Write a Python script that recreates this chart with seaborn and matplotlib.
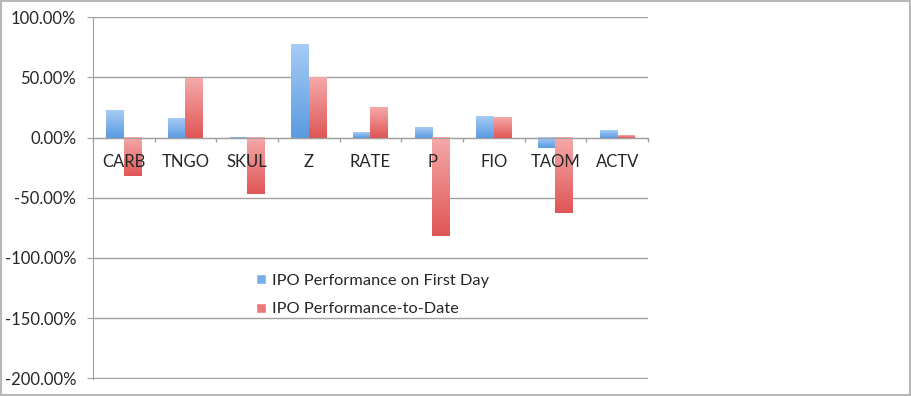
import numpy as np
import pandas as pd
import matplotlib
matplotlib.use("Agg")
import matplotlib.pyplot as plt
import seaborn as sns
from matplotlib.patches import Patch, Rectangle
from matplotlib.colors import LinearSegmentedColormap

# Данные (в процентах)
tickers = ["CARB", "TNGO", "SKUL", "Z", "RATE", "P", "FIO", "TAOM", "ACTV"]
first_day = [23.0, 16.5, -0.5, 78.0, 4.5, 8.5, 18.0, -9.0, 6.0]
to_date = [-32.0, 49.5, -47.0, 50.0, 25.0, -82.0, 17.0, -63.0, 1.8]
series_names = ["IPO Performance on First Day", "IPO Performance-to-Date"]

df = pd.DataFrame({
    "ticker": tickers * 2,
    "value": first_day + to_date,
    "series": [series_names[0]] * len(tickers) + [series_names[1]] * len(tickers),
})

sns.set_style("white")
plt.rcParams["font.family"] = ["Lato", "DejaVu Sans"]

grey = "#a0a0a0"
blue_mid, red_mid = "#78aeea", "#ea7878"
blue_cmap = LinearSegmentedColormap.from_list("b", ["#5b9be0", "#a6cbf5"])
red_cmap = LinearSegmentedColormap.from_list("r", ["#e05656", "#f5a9a9"])

fig = plt.figure(figsize=(9.12, 3.96), dpi=100)
ax = fig.add_axes([93 / 912, 1 - 379 / 396, 555 / 912, 362.5 / 396])

sns.barplot(data=df, x="ticker", y="value", hue="series", order=tickers,
            palette=[blue_mid, red_mid], width=0.57, saturation=1,
            legend=False, ax=ax)

# Градиентная заливка столбцов
grad = np.linspace(0, 1, 64).reshape(-1, 1)
for cont, cmap in zip(ax.containers, [blue_cmap, red_cmap]):
    for bar in cont:
        x0, w = bar.get_x(), bar.get_width()
        y0, h = bar.get_y(), bar.get_height()
        lo, hi = min(y0, y0 + h), max(y0, y0 + h)
        if hi - lo <= 0:
            continue
        ax.imshow(grad, extent=[x0, x0 + w, lo, hi], origin="lower",
                  cmap=cmap, aspect="auto", zorder=2)
        bar.set_visible(False)

yticks = np.arange(-200, 101, 50)
ax.set_xlim(-0.5, len(tickers) - 0.5)
ax.set_ylim(-200.6, 100.6)
ax.set_yticks(yticks)
ax.set_yticklabels([f"{v:.2f}%" for v in yticks])
ax.grid(False)
ax.set_axisbelow(False)
# линии сетки под столбцами, подписи осей поверх
for v in yticks:
    ax.axhline(v, color=grey, linewidth=1, zorder=0.5)

ax.spines["left"].set_color(grey)
ax.spines["bottom"].set_position(("data", 0))
ax.spines["bottom"].set_color(grey)

ax.set_xticks(np.arange(len(tickers)))
ax.set_xticklabels(tickers)
ax.tick_params(axis="x", which="both", length=0, pad=12, labelsize=12,
               top=False)
ax.tick_params(axis="y", which="both", length=4, color=grey, pad=8, labelsize=12,
               left=True, right=False)
ax.set_xlabel("")
ax.set_ylabel("")

# засечки на границах категорий под нулевой линией
bounds = np.arange(len(tickers) + 1) - 0.5
ax.vlines(bounds, -4, 0, color=grey, linewidth=1, zorder=2.6, clip_on=False)

handles = [Patch(facecolor=blue_mid), Patch(facecolor=red_mid)]
ax.legend(handles, series_names, loc="upper left", bbox_to_anchor=(0.279, 0.313),
          frameon=False, fontsize=11.8, handlelength=0.6, handleheight=0.6,
          handletextpad=0.4, labelspacing=0.9, borderpad=0)

# правую и верхнюю рамку осей убираем полностью
for side in ["top", "right"]:
    ax.spines[side].set_visible(False)
    ax.spines[side].set_color("none")
    ax.spines[side].set_linewidth(0)
ax.patch.set_edgecolor("none")
ax.patch.set_linewidth(0)

# Рамка вокруг всей диаграммы
fig.patches.append(Rectangle((0.001, 0.003), 0.997, 0.995, transform=fig.transFigure,
                             fill=False, edgecolor="#b8b8b8", linewidth=1.5))

fig.savefig("out.png", dpi=100)
